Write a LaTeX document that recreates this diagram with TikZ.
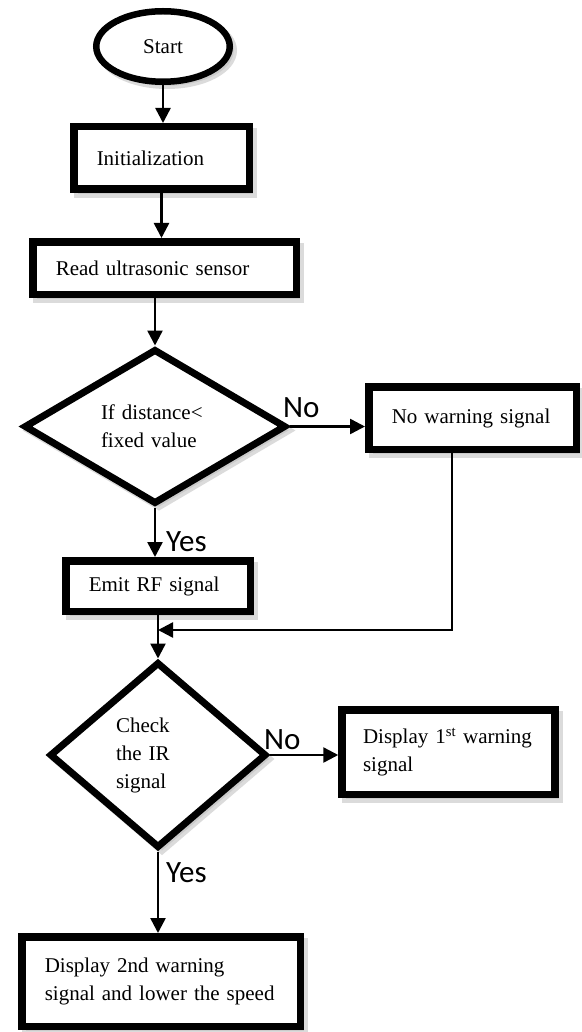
\documentclass[tikz,border=0pt]{standalone}
\usepackage{fontspec}
\setmainfont{Liberation Serif}
\newfontfamily\answerfont{Carlito}
\usepackage{tikz}
\usetikzlibrary{shapes.geometric, arrows.meta, shadows}

\begin{document}
\begin{tikzpicture}[x=1pt, y=-1pt,
    terminal/.style={draw, ellipse, line width=6.5pt, fill=white, inner sep=0pt,
        font=\fontsize{21}{28}\selectfont,
        drop shadow={shadow xshift=4pt, shadow yshift=-4pt, draw=black!28, fill=black!28, line width=6.5pt}},
    procbox/.style={draw, rectangle, line width=7.5pt, fill=white, align=left,
        inner xsep=23pt, inner ysep=0pt, font=\fontsize{21}{28}\selectfont,
        drop shadow={shadow xshift=4pt, shadow yshift=-5pt, draw=black!28, fill=black!28, line width=7.5pt}},
    decision/.style={draw, diamond, line width=7pt, fill=white, align=left,
        inner sep=0pt, font=\fontsize{21}{28}\selectfont,
        drop shadow={shadow xshift=4pt, shadow yshift=-4pt, draw=black!28, fill=black!28, line width=7pt}},
    flow/.style={line width=2.5pt, -{Triangle[length=15pt, width=15pt]}},
    answer/.style={anchor=base west, inner sep=0pt, font=\answerfont\fontsize{31}{36}\selectfont}]

    \useasboundingbox (0,0) rectangle (581,1032);

    \node[terminal, minimum width=133.5pt, minimum height=70.5pt] (start) at (163,46.5) {Start};
    \node[procbox, text width=129.5pt, minimum height=62.5pt] (init) at (161.5,158) {Initialization};
    \node[procbox, text width=217.5pt, minimum height=52.5pt] (read) at (164.5,268) {Read ultrasonic sensor};
    \node[decision, text width=108pt, aspect=1.7, minimum width=262pt, minimum height=155pt] (dist) at (155,426.5) {If distance<\\fixed value};
    \node[procbox, text width=161.5pt, minimum height=62.5pt] (nowarn) at (472.5,418) {No warning signal};
    \node[procbox, text width=138.5pt, minimum height=50.5pt] (emit) at (158,586) {Emit RF signal};
    \node[decision, text width=84pt, aspect=1.17, minimum width=217pt, minimum height=186pt] (irchk) at (158,755) {Check\\the IR\\signal};
    \node[procbox, text width=171pt, inner xsep=21pt, minimum height=84.5pt] (warnone) at (448.5,752) {Display 1\textsuperscript{st} warning\\signal};
    \node[procbox, text width=232.5pt, minimum height=89.5pt] (warntwo) at (161,981.5) {Display 2nd warning\\signal and lower the speed};

    \node[answer] (no1) at (283,417) {No};
    \node[answer] (yes1) at (166,551) {Yes};
    \node[answer] (no2) at (264,749) {No};
    \node[answer] (yes2) at (166,882) {Yes};

    \coordinate (merge) at ([yshift=-15pt]emit.south -| irchk.north);

    \draw[flow] (start.south) -- (start.south |- init.north);
    \draw[flow] (init.south) -- (init.south |- read.north);
    \draw[flow] (dist.north |- read.south) -- (dist.north);
    \draw[flow] (dist.east) -- (dist.east -| nowarn.west);
    \draw[flow] (dist.south) -- (dist.south |- emit.north);
    \draw[flow] ([xshift=-20.5pt]nowarn.south) |- (merge);
    \draw[flow] (irchk.north |- emit.south) -- (irchk.north);
    \draw[flow] (irchk.east) -- (irchk.east -| warnone.west);
    \draw[flow] (irchk.south) -- (irchk.south |- warntwo.north);
\end{tikzpicture}
\end{document}
